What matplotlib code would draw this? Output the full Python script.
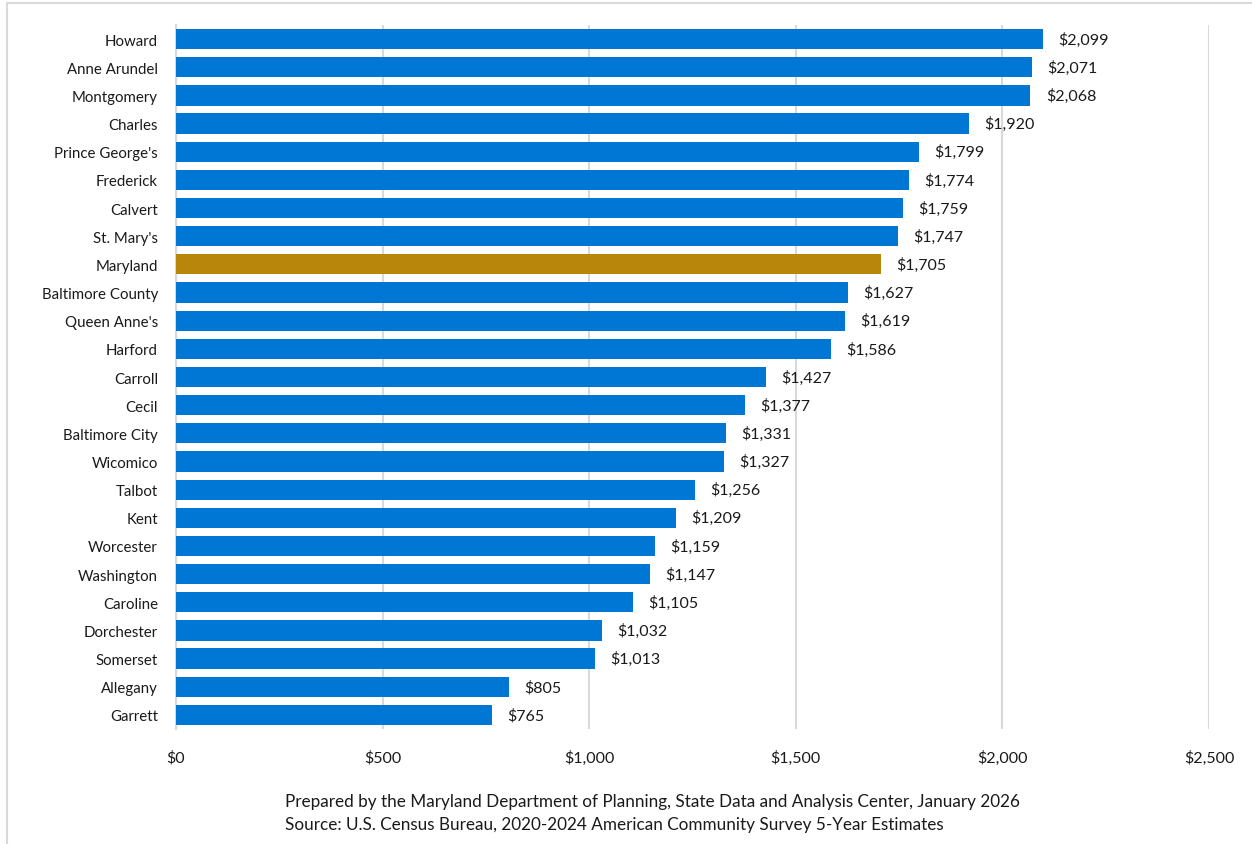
import matplotlib.pyplot as plt
from matplotlib.patches import Rectangle

counties = ['Howard', 'Anne Arundel', 'Montgomery', 'Charles', "Prince George's",
            'Frederick', 'Calvert', "St. Mary's", 'Maryland', 'Baltimore County',
            "Queen Anne's", 'Harford', 'Carroll', 'Cecil', 'Baltimore City',
            'Wicomico', 'Talbot', 'Kent', 'Worcester', 'Washington', 'Caroline',
            'Dorchester', 'Somerset', 'Allegany', 'Garrett']
rent = [2099, 2071, 2068, 1920, 1799, 1774, 1759, 1747, 1705, 1627,
        1619, 1586, 1427, 1377, 1331, 1327, 1256, 1209, 1159, 1147, 1105,
        1032, 1013, 805, 765]
ticks = [0, 500, 1000, 1500, 2000, 2500]

plt.rcParams['font.family'] = ['Lato', 'DejaVu Sans']

blue = '#0077D4'
gold = '#B8860B'
colors = [gold if c == 'Maryland' else blue for c in counties]

fig = plt.figure(figsize=(12.52, 8.45), dpi=100)
ax = fig.add_axes([176/1252, 1-730/845, (1209-176)/1252, (730-26)/845])

y = list(range(len(counties)))
ax.barh(y, rent, height=0.72, color=colors, zorder=3)
for yi, v in zip(y, rent):
    ax.annotate(f'${v:,}', (v, yi), xytext=(11, 0), textcoords='offset points',
                va='center', ha='left', fontsize=11.5, color='#1a1a1a')

ax.set_xlim(0, 2500)
ax.set_ylim(len(counties) - 0.5, -0.5)
ax.set_yticks(y)
ax.set_yticklabels(counties, fontsize=10.8, color='#1a1a1a')
ax.set_xticks(ticks)
ax.set_xticklabels([f'${t:,}' for t in ticks], fontsize=11.5, color='#1a1a1a')
ax.tick_params(length=0)
ax.tick_params(axis='y', pad=13)
ax.tick_params(axis='x', pad=15)
ax.xaxis.grid(True, color='#d9d9d9', linewidth=1.5, zorder=0)
for s in ['top', 'right', 'bottom']:
    ax.spines[s].set_visible(False)
ax.spines['left'].set_color('#d9d9d9')
ax.spines['left'].set_linewidth(1.5)

fig.text(285/1252, 1-802/845,
         'Prepared by the Maryland Department of Planning, State Data and Analysis Center, January 2026',
         ha='left', va='center', fontsize=12.3, color='#1a1a1a')
fig.text(285/1252, 1-825/845,
         'Source: U.S. Census Bureau, 2020-2024 American Community Survey 5-Year Estimates',
         ha='left', va='center', fontsize=12.3, color='#1a1a1a')

# light frame around the chart area
fig.patches.append(Rectangle((7/1252, -0.05), 1.1, 1 - 4/845 + 0.05,
                             transform=fig.transFigure, fill=False,
                             edgecolor='#d9d9d9', linewidth=1.5))

fig.savefig('out.png', dpi=100)
